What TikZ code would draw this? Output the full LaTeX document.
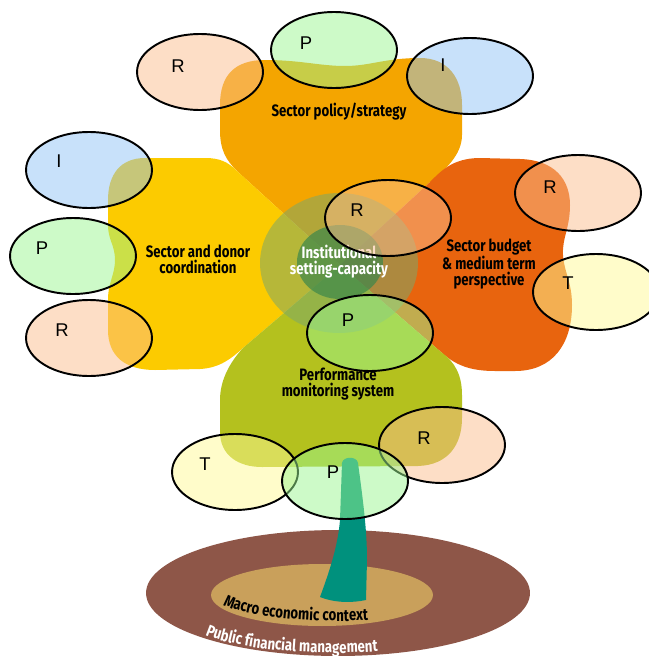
\documentclass[tikz,border=0pt]{standalone}
\usepackage{fontspec}
\setmainfont{Fira Sans}
\newfontfamily\condfont[FakeStretch=0.8]{Fira Sans}
\newfontfamily\letterfont{Liberation Sans}
\usetikzlibrary{shapes.geometric,decorations.text}

\definecolor{petalTop}{RGB}{244,165,0}
\definecolor{petalLeft}{RGB}{252,203,0}
\definecolor{petalRight}{RGB}{232,100,14}
\definecolor{petalBottom}{RGB}{180,193,30}
\definecolor{coreOuter}{RGB}{125,168,105}
\definecolor{coreInner}{RGB}{60,135,75}
\definecolor{fillR}{RGB}{251,189,141}
\definecolor{fillP}{RGB}{155,245,145}
\definecolor{fillI}{RGB}{145,195,245}
\definecolor{fillT}{RGB}{255,250,150}
\definecolor{trunkTeal}{RGB}{0,145,125}
\definecolor{soilOuter}{RGB}{142,86,72}
\definecolor{soilInner}{RGB}{201,160,91}

\newcommand{\labelfont}{\condfont\bfseries\fontsize{9.4}{9}\selectfont}
\newcommand{\groundfont}{\condfont\bfseries\fontsize{9.4}{10}\selectfont}

\begin{document}
\begin{tikzpicture}[x=0.02cm, y=-0.02cm,
  bubble/.style={ellipse, draw=black, line width=1.1pt, fill opacity=0.5,
                 minimum width=2.52cm, minimum height=1.52cm, inner sep=0pt},
  letter/.style={font=\letterfont\fontsize{10.5}{12}\selectfont, inner sep=0pt},
  petallabel/.style={font=\labelfont, align=center, inner sep=0pt},
  disc/.style={ellipse, draw=none, inner sep=0pt}]

\useasboundingbox (0,0) rectangle (649,656);

% ground: public financial management and macro economic context
\node[disc, fill=soilOuter, minimum width=7.68cm, minimum height=2.52cm] (pfm) at (338,593) {};
\node[disc, fill=soilInner, minimum width=4.44cm, minimum height=1.24cm] (macro) at (322,595) {};

\path[decorate, decoration={text along path, text align=left,
      text={|\groundfont|Macro economic context}}]
  plot[domain=0:1, samples=80, variable=\t]
  ({340+125*cos(159.4-129.4*\t)}, {596+25*sin(159.4-129.4*\t)});
\path[decorate, decoration={text along path, text align=left,
      text={|\groundfont\color{white}|Public financial management}}]
  plot[domain=0:1, samples=80, variable=\t]
  ({335+150*cos(150-115*\t)}, {617+36*sin(150-115*\t)});

% the four petals, meeting at the centre along the diagonals
\coordinate (C)  at (340,265);
\coordinate (UL) at (237,171);
\coordinate (UR) at (429,183);
\coordinate (LL) at (243,348);
\coordinate (LR) at (441,352);

\fill[petalTop] (C) -- (UL)
  .. controls (226,160) and (220,150) .. (220,130) -- (220,105)
  .. controls (220,75) and (235,60) .. (265,60)
  .. controls (300,60) and (320,66) .. (345,66)
  .. controls (370,66) and (385,58) .. (420,58)
  .. controls (448,58) and (462,78) .. (462,105) -- (462,135)
  .. controls (462,155) and (445,170) .. (UR) -- cycle;

\fill[petalLeft] (C) -- (UL)
  .. controls (228,162) and (220,158) .. (205,158) -- (145,158)
  .. controls (120,158) and (108,175) .. (108,200) -- (108,225)
  .. controls (108,240) and (115,245) .. (115,260)
  .. controls (115,275) and (108,282) .. (108,300) -- (108,330)
  .. controls (108,356) and (125,370) .. (155,370) -- (200,369)
  .. controls (220,368) and (232,358) .. (LL) -- cycle;

\fill[petalRight] (C) -- (UR)
  .. controls (440,172) and (452,158) .. (480,158) -- (520,159)
  .. controls (555,160) and (570,180) .. (570,205)
  .. controls (570,228) and (562,238) .. (563,255)
  .. controls (564,272) and (572,282) .. (572,305)
  .. controls (572,345) and (552,371) .. (515,371) -- (495,371)
  .. controls (470,371) and (455,365) .. (LR) -- cycle;

\fill[petalBottom] (C) -- (LL)
  .. controls (232,360) and (220,378) .. (220,400) -- (220,432)
  .. controls (220,455) and (238,467) .. (262,467) -- (418,466)
  .. controls (448,465) and (462,445) .. (462,418) -- (462,395)
  .. controls (462,375) and (455,362) .. (LR) -- cycle;

% trunk
\fill[trunkTeal] (342,463)
  .. controls (343,456) and (357,456) .. (358,463)
  .. controls (363,500) and (367,530) .. (367,560) -- (366,600)
  .. controls (352,603) and (335,603) .. (320,597)
  .. controls (330,570) and (338,545) .. (340,520) -- cycle;

% institutional core
\node[disc, fill=coreOuter, fill opacity=0.55, minimum width=3.16cm, minimum height=2.8cm] (coreA) at (339,263) {};
\node[disc, fill=coreInner, fill opacity=0.7, minimum width=1.72cm, minimum height=1.48cm] (coreB) at (340,262) {};

% petal labels
\node[petallabel] (lblTop) at (339,112) {Sector policy/strategy};
\node[petallabel] (lblLeft) at (198,259) {Sector and donor\\coordination};
\node[petallabel] (lblRight) at (489,264) {Sector budget\\\& medium term\\perspective};
\node[petallabel] (lblBottom) at (338,384) {Performance\\monitoring system};
\node[petallabel, text=white] (lblCore) at (339,262) {Institutional\\setting-capacity};

% bubbles around the petals
\node[bubble, fill=fillR] (b1) at (200,72) {};
\node[bubble, fill=fillP] (b2) at (334,50) {};
\node[bubble, fill=fillI] (b3) at (470,76) {};
\node[bubble, fill=fillI] (b4) at (89,170) {};
\node[bubble, fill=fillP] (b5) at (73,256) {};
\node[bubble, fill=fillR] (b6) at (89,338) {};
\node[bubble, fill=fillR] (b7) at (388,218) {};
\node[bubble, fill=fillP] (b8) at (370,333) {};
\node[bubble, fill=fillR] (b9) at (578,193) {};
\node[bubble, fill=fillT] (b10) at (596,292) {};
\node[bubble, fill=fillT] (b11) at (235,472) {};
\node[bubble, fill=fillR] (b13) at (442,445) {};
\node[bubble, fill=fillP] (b12) at (345,481) {};

\node[letter] (t1) at (178,66) {R};
\node[letter] (t2) at (306,43) {P};
\node[letter] (t3) at (443,65) {I};
\node[letter] (t4) at (59,161) {I};
\node[letter] (t5) at (42,248) {P};
\node[letter] (t6) at (62,330) {R};
\node[letter] (t7) at (357,210) {R};
\node[letter] (t8) at (348,320) {P};
\node[letter] (t9) at (550,187) {R};
\node[letter] (t10) at (568,283) {T};
\node[letter] (t11) at (205,464) {T};
\node[letter] (t12) at (333,472) {P};
\node[letter] (t13) at (424,438) {R};

\end{tikzpicture}
\end{document}
